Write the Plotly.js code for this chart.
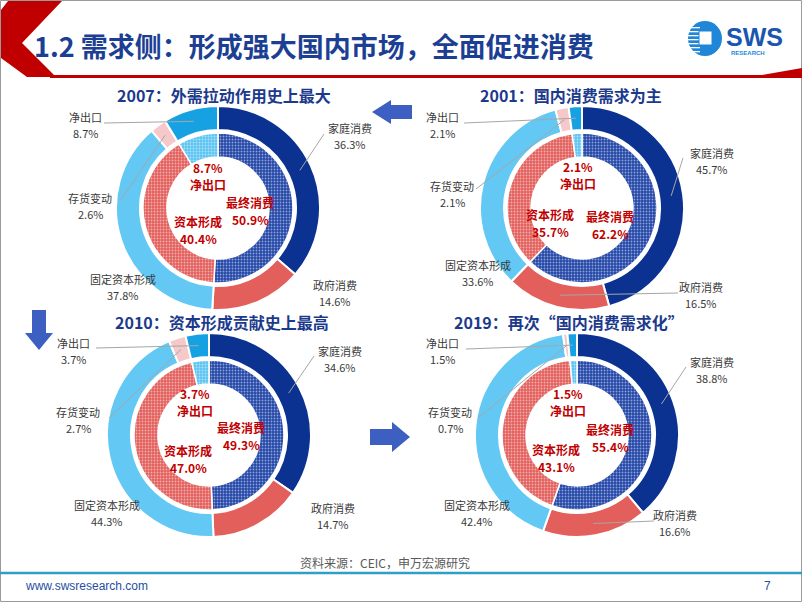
<!DOCTYPE html>
<html>
<head>
<meta charset="utf-8">
<script src="https://cdn.plot.ly/plotly-3.0.1.min.js"></script>
<style>html,body{margin:0;padding:0;background:#fff;}#chart{width:802px;height:602px;}</style>
</head>
<body>
<div id="chart"></div>
<script>
// ---------------- DATA ----------------
const outerLabels = ['家庭消费', '政府消费', '固定资本形成', '存货变动', '净出口'];
const innerLabels = ['最终消费', '资本形成', '净出口'];
const years = ['2007', '2001', '2010', '2019'];
const chartTitles = ['2007：外需拉动作用史上最大', '2001：国内消费需求为主', '2010：资本形成贡献史上最高', '2019：再次“国内消费需求化”'];
const outer2007 = [36.3, 14.6, 37.8, 2.6, 8.7];
const inner2007 = [50.9, 40.4, 8.7];
const outer2001 = [45.7, 16.5, 33.6, 2.1, 2.1];
const inner2001 = [62.2, 35.7, 2.1];
const outer2010 = [34.6, 14.7, 44.3, 2.7, 3.7];
const inner2010 = [49.3, 47.0, 3.7];
const outer2019 = [38.8, 16.6, 42.4, 0.7, 1.5];
const inner2019 = [55.4, 43.1, 1.5];
const mainTitle = '1.2 需求侧：形成强大国内市场，全面促进消费';
const sourceText = '资料来源：CEIC，申万宏源研究';
const siteText = 'www.swsresearch.com';
const pageNum = '7';

// ---------------- STYLE / LAYOUT ----------------
const W = 802, H = 602;
const X = x => x / W;
const Y = y => 1 - y / H;
const outerColors = ['#0b3290', '#e35f5c', '#63c9f4', '#f5c8ca', '#16a2e2'];
const innerColors = ['#2347a8', '#e35f5c', '#5cc4f2'];
const R_OUT = 102, R_OUT_IN = 78, R_IN = 75, R_IN_IN = 51, R_MID = 90;
const CJK = 'Noto Sans CJK SC, Liberation Sans, sans-serif';

const charts = [
  { outer: outer2007, inner: inner2007, title: chartTitles[0], c: [218, 208], t: [224, 95],
    lab: [[350, 136], [335, 293], [123, 287], [90, 206], [85, 125]],
    lines: { 0: [324, 134], 3: [120, 201], 4: [104, 123] },
    inl: [[250, 211], [198, 230], [208, 176]] },
  { outer: outer2001, inner: inner2001, title: chartTitles[1], c: [582, 208], t: [571, 95],
    lab: [[712, 161], [701, 295], [478, 273], [452, 194], [443, 125]],
    lines: { 0: [683, 158], 1: [678, 293], 3: [476, 189], 4: [464, 123] },
    inl: [[610, 225], [550, 223], [578, 175]] },
  { outer: outer2010, inner: inner2010, title: chartTitles[2], c: [209, 435], t: [222, 322],
    lab: [[340, 359], [333, 516], [107, 513], [78, 420], [73, 351]],
    lines: { 0: [314, 356], 3: [109, 418], 4: [96, 348] },
    inl: [[241, 436], [188, 459], [195, 402]] },
  { outer: outer2019, inner: inner2019, title: chartTitles[3], c: [577, 435], t: [569, 322],
    lab: [[712, 370], [675, 523], [477, 513], [450, 420], [443, 351]],
    lines: { 0: [686, 367], 1: [654, 521], 3: [478, 418], 4: [466, 349] },
    inl: [[610, 438], [556, 458], [568, 402]] }
];

function dom(cx, cy, r) {
  return { x: [X(cx - r), X(cx + r)], y: [Y(cy + r), Y(cy - r)] };
}
function midPoint(vals, idx, cx, cy, r) {
  const tot = vals.reduce((a, b) => a + b, 0);
  let cum = 0;
  for (let i = 0; i < idx; i++) cum += vals[i];
  cum += vals[idx] / 2;
  const a = cum / tot * 2 * Math.PI;
  return [cx + r * Math.sin(a), cy - r * Math.cos(a)];
}
const fmt = v => v.toFixed(1) + '%';

const traces = [];
const annotations = [];
const shapes = [];

function txt(x, y, text, font, xanchor) {
  annotations.push({ xref: 'paper', yref: 'paper', x: X(x), y: Y(y), text: text, showarrow: false,
    xanchor: xanchor || 'center', yanchor: 'middle', font: font, borderpad: 0 });
}

charts.forEach(ch => {
  const [cx, cy] = ch.c;
  traces.push({
    type: 'pie', values: ch.outer, labels: outerLabels, sort: false, direction: 'clockwise', rotation: 0,
    hole: R_OUT_IN / R_OUT, domain: dom(cx, cy, R_OUT), textinfo: 'none', textposition: 'none', hoverinfo: 'skip', showlegend: false,
    marker: { colors: outerColors, line: { color: '#ffffff', width: 2 } }
  });
  traces.push({
    type: 'pie', values: ch.inner, labels: innerLabels, sort: false, direction: 'clockwise', rotation: 0,
    hole: R_IN_IN / R_IN, domain: dom(cx, cy, R_IN), textinfo: 'none', textposition: 'none', hoverinfo: 'skip', showlegend: false,
    marker: { colors: innerColors, line: { color: '#ffffff', width: 1.5 },
      pattern: { shape: '.', fgcolor: '#ffffff', bgcolor: innerColors, size: 3, solidity: 0.3, fillmode: 'overlay' } }
  });
  txt(ch.t[0], ch.t[1], '<b>' + ch.title + '</b>', { family: CJK, size: 16, color: '#1c3a8c' });
  const of = { family: CJK, size: 11, color: '#3a3a3a' };
  outerLabels.forEach((lb, i) => {
    txt(ch.lab[i][0], ch.lab[i][1] - 8, lb, of);
    txt(ch.lab[i][0], ch.lab[i][1] + 8, fmt(ch.outer[i]), of);
  });
  const inf = { family: CJK, size: 12, color: '#c00000' };
  innerLabels.forEach((lb, i) => {
    const first = i === 2 ? fmt(ch.inner[i]) : lb;
    const second = i === 2 ? lb : fmt(ch.inner[i]);
    txt(ch.inl[i][0], ch.inl[i][1] - 8.5, '<b>' + first + '</b>', inf);
    txt(ch.inl[i][0], ch.inl[i][1] + 8.5, '<b>' + second + '</b>', inf);
  });
  Object.keys(ch.lines).forEach(k => {
    const s = ch.lines[k];
    const e = midPoint(ch.outer, +k, cx, cy, R_MID);
    shapes.push({ type: 'line', xref: 'paper', yref: 'paper', x0: X(s[0]), y0: Y(s[1]), x1: X(e[0]), y1: Y(e[1]),
      line: { color: '#a6a6a6', width: 1 } });
  });
});

function pathP(pts) {
  return 'M ' + pts.map(p => X(p[0]) + ',' + Y(p[1])).join(' L ') + ' Z';
}
// slide frame
shapes.push({ type: 'rect', xref: 'paper', yref: 'paper', x0: X(0.5), y0: Y(601.5), x1: X(801.5), y1: Y(0.5),
  line: { color: '#9a9a9a', width: 1 }, layer: 'below' });
// header chevron and red line
shapes.push({ type: 'path', xref: 'paper', yref: 'paper', path: pathP([[8, 1], [62, 1], [22, 43], [56, 77], [27, 77], [1, 58], [1, 10]]),
  fillcolor: '#c00000', line: { width: 0 } });
shapes.push({ type: 'rect', xref: 'paper', yref: 'paper', x0: X(50), y0: Y(78), x1: X(802), y1: Y(75),
  fillcolor: '#c00000', line: { width: 0 } });
shapes.push({ type: 'path', xref: 'paper', yref: 'paper', path: pathP([[745, 78], [802, 68], [802, 78]]),
  fillcolor: '#c00000', line: { width: 0 } });
// logo
shapes.push({ type: 'circle', xref: 'paper', yref: 'paper', x0: X(688), y0: Y(56), x1: X(722), y1: Y(21),
  fillcolor: '#1f86d8', line: { width: 0 } });
[27, 31, 35, 39, 43, 47, 51].forEach(yy => {
  shapes.push({ type: 'rect', xref: 'paper', yref: 'paper', x0: X(686), y0: Y(yy + 1.3), x1: X(700), y1: Y(yy),
    fillcolor: '#ffffff', line: { width: 0 } });
});
shapes.push({ type: 'rect', xref: 'paper', yref: 'paper', x0: X(699), y0: Y(45), x1: X(712), y1: Y(31),
  fillcolor: '#ffffff', line: { color: '#1f86d8', width: 1 } });
// arrows
const arrowColor = '#3d5fc2';
shapes.push({ type: 'path', xref: 'paper', yref: 'paper', path: pathP([[372, 112], [391, 100], [391, 105], [412, 105], [412, 119], [391, 119], [391, 124]]),
  fillcolor: arrowColor, line: { width: 0 } });
shapes.push({ type: 'path', xref: 'paper', yref: 'paper', path: pathP([[32, 310], [46, 310], [46, 333], [53, 333], [39, 350], [25, 333], [32, 333]]),
  fillcolor: arrowColor, line: { width: 0 } });
shapes.push({ type: 'path', xref: 'paper', yref: 'paper', path: pathP([[370, 429], [392, 429], [392, 422], [410, 437], [392, 452], [392, 445], [370, 445]]),
  fillcolor: arrowColor, line: { width: 0 } });
// footer line
shapes.push({ type: 'line', xref: 'paper', yref: 'paper', x0: 0, y0: Y(573), x1: 1, y1: Y(573),
  line: { color: '#2f9fc8', width: 2.5 } });

txt(33, 46, '<b>' + mainTitle + '</b>', { family: CJK, size: 27, color: '#1c3f94' }, 'left');
txt(754, 37, '<b>SWS</b>', { family: 'Liberation Sans, sans-serif', size: 25, color: '#1a56b0' });
txt(748, 53, '<b>RESEARCH</b>', { family: 'Liberation Sans, sans-serif', size: 6, color: '#1f86d8' });
txt(385, 562, sourceText, { family: CJK, size: 12, color: '#595959' });
txt(24, 586, siteText, { family: 'Liberation Sans, sans-serif', size: 12, color: '#1f4fa0' }, 'left');
txt(767, 586, pageNum, { family: 'Liberation Sans, sans-serif', size: 12, color: '#1f4fa0' });

const layout = {
  width: W, height: H, margin: { l: 0, r: 0, t: 0, b: 0 },
  paper_bgcolor: '#ffffff', plot_bgcolor: '#ffffff', showlegend: false,
  annotations: annotations, shapes: shapes
};
Plotly.newPlot('chart', traces, layout, { staticPlot: true, displayModeBar: false });
</script>
</body>
</html>
